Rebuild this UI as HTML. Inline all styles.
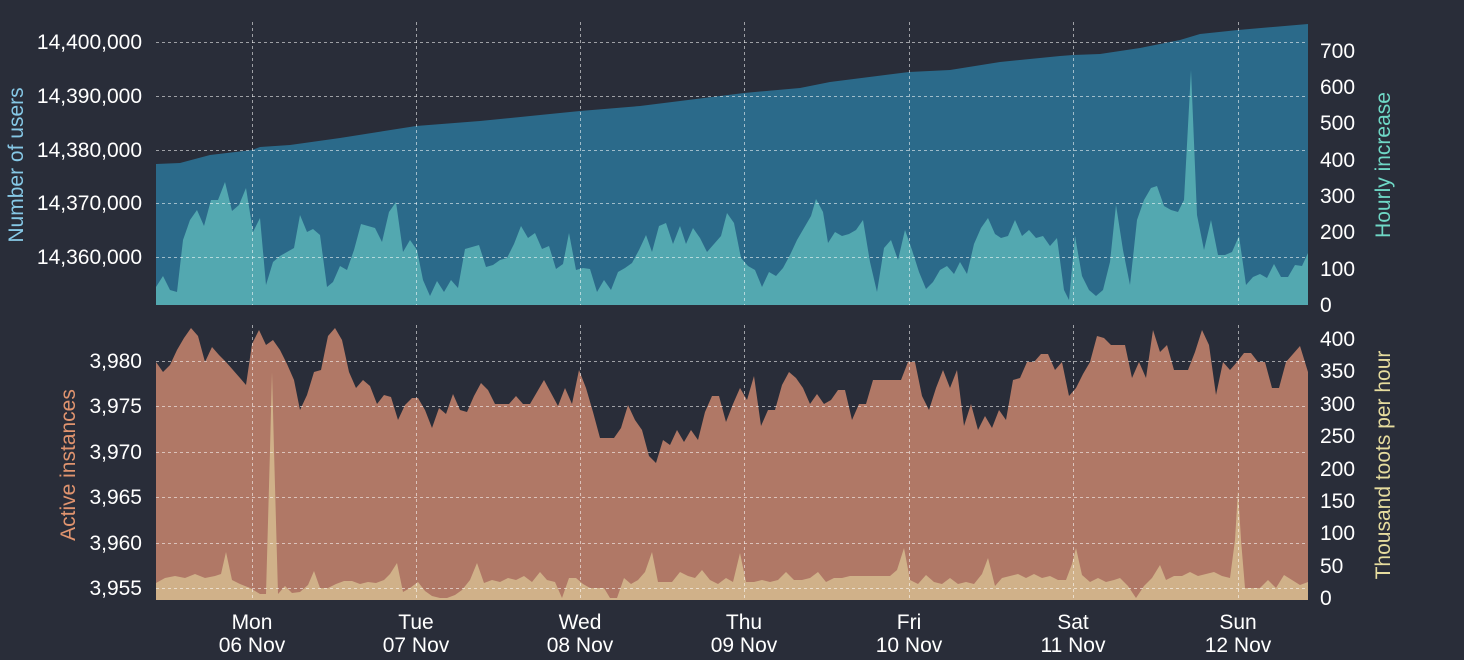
<!DOCTYPE html>
<html><head><meta charset="utf-8"><style>
html,body{margin:0;padding:0;background:#292d39;}
svg{display:block;font-family:"Liberation Sans",sans-serif;}
</style></head><body>
<svg width="1464" height="660" viewBox="0 0 1464 660" xmlns="http://www.w3.org/2000/svg">
<rect width="1464" height="660" fill="#292d39"/>
<polygon fill="#2b6a8a" points="156,305 156,164 180,163 210,155 252,150 260,147 290,145 340,138 416,126 480,121 540,115 580,111 640,106 744,93 800,88 830,82 909,72 950,70 1000,62 1060,56 1073,55 1100,54 1140,48 1180,40 1200,34 1238,30 1308,24 1308,305"/>
<polygon fill="#53a8b0" points="156,305 156,287 163,276 170,290 177,292 183,240 190,220 197,210 204,226 211,200 218,200 225,182 232,211 239,205 246,188 253,232 260,218 266,285 273,262 280,256 287,252 294,248 300,215 307,232 313,229 320,235 327,287 333,282 340,266 347,270 354,250 361,224 368,226 375,228 382,242 389,212 396,202 403,252 410,240 417,250 423,280 430,296 437,281 444,292 451,280 458,288 465,249 472,247 479,245 486,267 493,265 500,260 507,258 514,244 521,226 528,238 535,233 542,249 549,246 556,269 563,264 569,233 576,270 583,268 590,269 597,292 604,280 611,290 618,272 625,268 632,263 639,250 646,235 652,252 659,226 666,223 673,244 680,226 686,244 693,228 700,238 707,252 714,244 721,236 727,213 734,223 741,258 748,266 755,270 762,287 769,272 776,276 783,268 790,255 797,240 804,228 811,216 816,199 823,212 828,243 835,232 842,236 849,234 856,230 863,220 870,262 877,292 884,248 891,240 898,260 905,230 912,250 919,272 926,289 933,282 940,270 947,266 954,274 960,262 967,274 974,244 981,228 988,218 995,234 1001,238 1008,236 1015,220 1022,236 1029,230 1036,238 1043,236 1050,246 1057,238 1064,290 1069,300 1075,236 1082,276 1089,290 1096,296 1103,290 1110,262 1116,205 1123,250 1130,285 1137,220 1144,200 1151,188 1157,186 1164,206 1171,210 1178,212 1184,200 1191,70 1197,215 1204,250 1211,220 1218,255 1225,255 1232,252 1239,236 1246,285 1253,277 1260,274 1267,278 1274,264 1281,277 1288,277 1295,265 1302,266 1308,253 1308,305"/>
<polygon fill="#b07866" points="156,600 156,362 163,372 170,365 177,350 184,338 191,328 198,336 205,362 212,347 219,355 226,362 233,370 240,378 246,385 252,344 259,330 266,345 273,340 280,350 287,364 294,380 300,410 307,395 314,372 321,370 328,336 335,328 342,340 349,372 356,388 363,380 370,386 377,404 384,395 391,397 398,420 405,405 412,398 418,398 425,410 432,428 439,408 446,414 453,394 460,410 467,412 474,396 481,383 488,390 495,404 502,404 509,404 516,396 523,404 530,404 537,392 544,380 551,393 558,406 565,388 572,404 579,370 586,388 593,412 600,438 607,438 614,438 621,428 628,405 635,420 642,430 649,456 656,463 663,440 670,445 677,430 684,442 691,430 698,440 705,412 712,396 719,396 726,422 733,404 740,388 747,400 754,376 761,426 768,410 775,410 782,385 789,372 796,378 803,388 810,404 817,394 824,404 831,400 838,390 845,390 852,420 859,404 866,404 873,380 880,380 887,380 894,380 901,380 908,362 915,362 922,396 929,410 936,388 943,370 950,388 957,370 964,426 971,404 978,430 985,416 992,428 999,410 1006,420 1013,380 1020,378 1027,362 1034,362 1041,354 1048,354 1055,370 1062,362 1069,396 1076,388 1083,374 1090,362 1097,336 1104,338 1111,345 1118,345 1125,345 1132,378 1139,362 1146,378 1153,330 1160,352 1167,345 1174,370 1181,370 1188,370 1195,352 1202,330 1209,345 1216,395 1223,362 1230,370 1237,362 1244,353 1251,353 1258,362 1265,362 1272,388 1279,388 1286,362 1293,354 1300,346 1308,372 1308,600"/>
<polygon fill="#d0b189" points="156,600 156,583 165,578 175,576 185,578 195,574 205,578 215,576 221,574 226,552 232,580 240,584 250,588 260,594 266,594 270,450 272,372 274,450 278,594 285,586 292,593 300,592 308,585 314,571 320,588 328,588 336,584 344,581 352,581 360,584 368,582 376,583 384,580 390,574 397,563 403,592 410,588 418,582 425,591 432,596 440,598 447,598 455,595 462,590 470,580 477,563 484,583 492,580 500,582 508,578 516,580 524,576 532,582 540,572 547,580 555,582 562,598 569,578 576,578 583,584 590,588 597,588 604,588 610,598 617,598 624,578 631,584 638,580 645,572 652,552 658,582 665,582 672,582 680,572 688,576 695,578 702,570 710,580 718,584 726,578 733,582 740,553 746,582 754,582 762,580 770,582 778,580 786,572 794,580 802,580 810,578 818,572 826,582 834,578 842,578 850,576 858,576 866,576 874,576 882,576 890,576 897,570 904,548 910,580 918,584 926,575 934,582 942,584 950,578 958,584 966,582 974,584 982,574 988,558 995,586 1002,578 1010,576 1018,574 1026,578 1034,574 1042,578 1050,576 1058,580 1066,580 1072,564 1076,548 1082,575 1090,582 1098,578 1106,582 1114,580 1120,578 1128,586 1136,598 1144,586 1152,578 1160,565 1166,580 1174,576 1182,576 1190,572 1198,576 1206,574 1214,572 1222,576 1230,578 1235,540 1238,490 1241,540 1245,588 1252,588 1260,588 1268,580 1276,588 1284,575 1292,580 1300,585 1308,582 1308,600"/>
<g stroke="#ffffff" stroke-opacity="0.55" stroke-width="1" stroke-dasharray="3,3" fill="none">
<path d="M156,42.5H1308M156,96.5H1308M156,150.5H1308M156,203.5H1308M156,257.5H1308"/>
<path d="M156,361.5H1308M156,406.5H1308M156,452.5H1308M156,497.5H1308M156,543.5H1308M156,588.5H1308"/>
<path d="M252.5,22V305M416.5,22V305M580.5,22V305M744.5,22V305M909.5,22V305M1073.5,22V305M1238.5,22V305"/>
<path d="M252.5,325V600M416.5,325V600M580.5,325V600M744.5,325V600M909.5,325V600M1073.5,325V600M1238.5,325V600"/>
</g>
<g fill="#ffffff" font-size="21" text-anchor="end">
<text x="142" y="49">14,400,000</text><text x="142" y="103">14,390,000</text><text x="142" y="157">14,380,000</text><text x="142" y="210">14,370,000</text><text x="142" y="264">14,360,000</text>
<text x="142" y="368">3,980</text><text x="142" y="413">3,975</text><text x="142" y="459">3,970</text><text x="142" y="504">3,965</text><text x="142" y="550">3,960</text><text x="142" y="595">3,955</text>
</g>
<g fill="#ffffff" font-size="21" text-anchor="start">
<text x="1320" y="312">0</text><text x="1320" y="276">100</text><text x="1320" y="239">200</text><text x="1320" y="203">300</text><text x="1320" y="167">400</text><text x="1320" y="130">500</text><text x="1320" y="94">600</text><text x="1320" y="58">700</text>
<text x="1320" y="605">0</text><text x="1320" y="573">50</text><text x="1320" y="540">100</text><text x="1320" y="508">150</text><text x="1320" y="476">200</text><text x="1320" y="443">250</text><text x="1320" y="411">300</text><text x="1320" y="378">350</text><text x="1320" y="346">400</text>
</g>
<g font-size="21" text-anchor="middle">
<text transform="translate(23,165) rotate(-90)" fill="#86c8e6">Number of users</text>
<text transform="translate(1390,165) rotate(-90)" fill="#6fd8c6">Hourly increase</text>
<text transform="translate(75,465) rotate(-90)" fill="#e0946f">Active instances</text>
<text transform="translate(1390,465) rotate(-90)" fill="#e6dc9e">Thousand toots per hour</text>
</g>
<g fill="#ffffff" font-size="21" text-anchor="middle">
<text x="252" y="629">Mon</text><text x="252" y="652">06 Nov</text>
<text x="416" y="629">Tue</text><text x="416" y="652">07 Nov</text>
<text x="580" y="629">Wed</text><text x="580" y="652">08 Nov</text>
<text x="744" y="629">Thu</text><text x="744" y="652">09 Nov</text>
<text x="909" y="629">Fri</text><text x="909" y="652">10 Nov</text>
<text x="1073" y="629">Sat</text><text x="1073" y="652">11 Nov</text>
<text x="1238" y="629">Sun</text><text x="1238" y="652">12 Nov</text>
</g>
</svg>
</body></html>
